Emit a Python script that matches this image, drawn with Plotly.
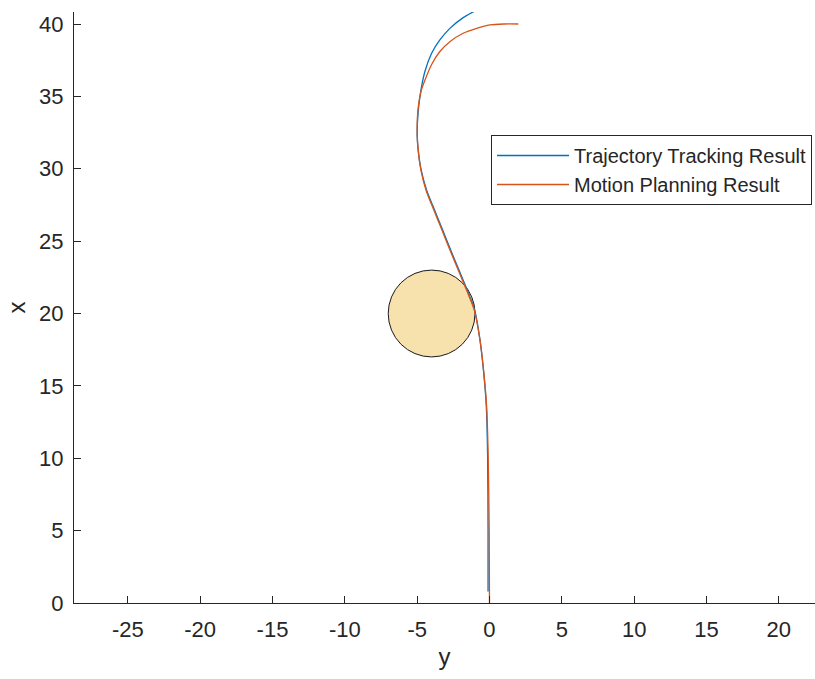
import plotly.graph_objects as go

# Motion planning result (horizontal axis "y", vertical axis "x")
plan_x = [0, 5, 10.1, 13.6, 15.9, 18.2, 20.3, 21.6, 23.0, 24.4, 25.8, 27.2, 28.5, 29.9, 31.3,
          32.7, 34.0, 35.4, 36.1, 37.2, 38.1, 38.78, 39.36, 39.7, 39.94, 40.0, 40.0]
plan_y = [0, -0.02, -0.09, -0.2, -0.39, -0.66, -1.07, -1.58, -2.16, -2.74, -3.3, -3.87, -4.38, -4.74, -4.93,
          -5.0, -4.95, -4.72, -4.47, -4.0, -3.43, -2.74, -1.82, -0.89, 0.03, 1.0, 1.99]

# Trajectory tracking result
track_x = [0.8, 5, 10.1, 13.6, 15.9, 18.2, 20.3, 21.6, 23.0, 24.4, 25.8, 27.2, 28.5, 29.9, 31.3,
           32.3, 33.95, 35.3, 36.7, 37.98, 38.9, 39.7, 40.44, 40.9]
track_y = [-0.1, -0.1, -0.13, -0.22, -0.4, -0.66, -1.04, -1.53, -2.11, -2.69, -3.25, -3.82, -4.34, -4.72, -4.93,
           -5.0, -4.93, -4.76, -4.47, -4.0, -3.43, -2.74, -1.82, -1.01]

# Obstacle
obstacle_y = -4.0
obstacle_x = 20.0
obstacle_r = 3.0

x_ticks = [-25, -20, -15, -10, -5, 0, 5, 10, 15, 20]
x_tick_labels = ["-25", "-20", "-15", "-10", "-5", "0", "5", "10", "15", "20"]
y_ticks = [0, 5, 10, 15, 20, 25, 30, 35, 40]
y_tick_labels = ["0", "5", "10", "15", "20", "25", "30", "35", "40"]

FONT = "Liberation Sans, Arial, Helvetica, sans-serif"
AX = "#262626"

fig = go.Figure()
fig.add_trace(go.Scatter(x=track_y, y=track_x, mode="lines", name="Trajectory Tracking Result",
                         line=dict(color="#0072BD", width=1.3, shape="spline", smoothing=0.7)))
fig.add_trace(go.Scatter(x=plan_y, y=plan_x, mode="lines", name="Motion Planning Result",
                         line=dict(color="#D95319", width=1.3, shape="spline", smoothing=0.7)))

fig.add_shape(type="circle", xref="x", yref="y",
              x0=obstacle_y - obstacle_r, x1=obstacle_y + obstacle_r,
              y0=obstacle_x - obstacle_r, y1=obstacle_x + obstacle_r,
              fillcolor="#F7E1AD", line=dict(color="#1a1a1a", width=1), layer="below")

fig.update_layout(
    width=815, height=679,
    margin=dict(l=74, r=0, t=12, b=76, autoexpand=False),
    plot_bgcolor="white", paper_bgcolor="white",
    font=dict(family=FONT, size=22, color=AX),
    showlegend=True,
    legend=dict(x=(491 - 74) / 741, y=(603 - 135) / 591, xanchor="left", yanchor="top",
                bordercolor=AX, borderwidth=1, bgcolor="white",
                font=dict(family=FONT, size=20, color=AX), itemwidth=72,
                tracegroupgap=0),
)
fig.update_xaxes(range=[-28.72, 22.5], tickvals=x_ticks, ticktext=x_tick_labels,
                 ticks="inside", ticklen=7, tickcolor=AX,
                 showline=True, linecolor=AX, linewidth=1, showgrid=False, zeroline=False,
                 mirror=False, ticklabelstandoff=7, tickfont=dict(size=22, family=FONT, color=AX),
                 title=dict(text="y", font=dict(size=24, family=FONT, color=AX), standoff=6))
fig.update_yaxes(range=[0, 40.83], tickvals=y_ticks, ticktext=y_tick_labels,
                 ticks="inside", ticklen=7, tickcolor=AX,
                 showline=True, linecolor=AX, linewidth=1, showgrid=False, zeroline=False,
                 mirror=False, ticklabelstandoff=5, tickfont=dict(size=22, family=FONT, color=AX),
                 title=dict(text="x", font=dict(size=24, family=FONT, color=AX), standoff=6))

fig.write_html("out.html", config={"displayModeBar": False},
               post_script="document.body.style.margin='0';")
